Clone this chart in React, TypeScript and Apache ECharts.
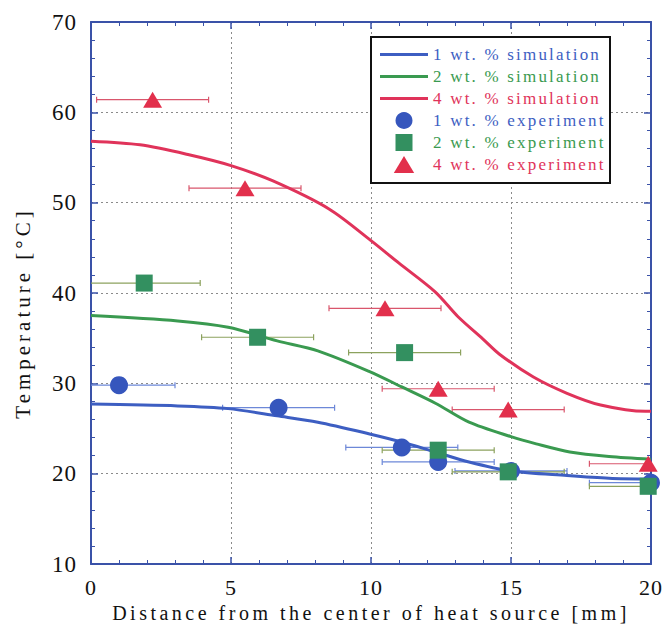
import React, { useEffect, useRef } from "react";
import * as echarts from "echarts";

// ---- simulation curves ----
const sim1X = [0, 3.1, 4.9, 6.65, 8.1, 9.95, 11.1, 12.3, 13.5, 15, 17, 18.5, 20];
const sim1Y = [27.7, 27.5, 27.2, 26.4, 25.7, 24.4, 23.5, 22.4, 21.3, 20.3, 19.8, 19.5, 19.4];
const sim2X = [0, 3.1, 4.9, 6.65, 8.1, 9.95, 11.1, 12.3, 13.5, 15, 15.9, 17.1, 18.5, 20];
const sim2Y = [37.5, 36.9, 36.2, 34.7, 33.6, 31.3, 29.6, 27.8, 25.7, 24.1, 23.3, 22.4, 21.9, 21.6];
const sim4X = [0, 1.75, 3.5, 5, 6.5, 8.5, 10, 11, 12.3, 13.1, 14, 14.6, 15.8, 17, 18.2, 19.8, 20];
const sim4Y = [56.8, 56.4, 55.3, 54.1, 52.4, 49.3, 45.8, 43.3, 40.1, 37.4, 34.9, 33.2, 30.7, 28.9, 27.6, 26.9, 26.9];

// ---- experiments ----
const exp1X = [1.0, 6.7, 11.1, 12.4, 15.0, 20.0];
const exp1Y = [29.8, 27.3, 22.9, 21.3, 20.3, 19.0];
const exp1Err = [2, 2, 2, 2, 2, 2.2];
const exp2X = [1.9, 5.95, 11.2, 12.4, 14.9, 19.9];
const exp2Y = [41.1, 35.1, 33.4, 22.6, 20.2, 18.6];
const exp2Err = [2, 2, 2, 2, 2, 2.1];
const exp4X = [2.2, 5.5, 10.5, 12.4, 14.9, 19.9];
const exp4Y = [61.4, 51.6, 38.3, 29.4, 27.1, 21.1];
const exp4Err = [2, 2, 2, 2, 2, 2.1];

const xTicks = [0, 5, 10, 15, 20];
const yTicks = [10, 20, 30, 40, 50, 60, 70];

const legendNames = [
  "1 wt. % simulation",
  "2 wt. % simulation",
  "4 wt. % simulation",
  "1 wt. % experiment",
  "2 wt. % experiment",
  "4 wt. % experiment",
];

const BLUE = "#3d5ec2";
const GREEN = "#3a9a50";
const RED = "#e0335a";
const BLUE_M = "#3656bd";
const GREEN_M = "#339060";
const RED_M = "#e2304c";
const BLUE_E = "#6d88d8";
const GREEN_E = "#8ca25e";
const RED_E = "#d9566c";
const AX = "#3a52a8";
const FONT = "'Liberation Serif', 'Times New Roman', serif";

const LINE_ICON = "path://M0,0 L48,0 L48,3 L0,3 Z";
const SQUARE_ICON = "path://M0,0 L10,0 L10,10 L0,10 Z";
const TRI_ICON = "path://M6,0 L12,10 L0,10 Z";
const legendIcons = [LINE_ICON, LINE_ICON, LINE_ICON, "circle", SQUARE_ICON, TRI_ICON];
const legendColors = [BLUE, GREEN, RED, BLUE, GREEN, RED];
const iconColors = [BLUE, GREEN, RED, BLUE_M, GREEN_M, RED_M];

const pairs = (xs: number[], ys: number[]) => xs.map((x, i) => [x, ys[i]]);
const errData = (xs: number[], ys: number[], es: number[]) =>
  xs.map((x, i) => [x, ys[i], x - es[i], x + es[i]]);

const errSeries = (name: string, data: number[][], color: string) => ({
  name,
  type: "custom",
  clip: true,
  z: 2,
  data,
  renderItem: (params: any, api: any) => {
    const y = api.value(1);
    const p1 = api.coord([api.value(2), y]);
    const p2 = api.coord([api.value(3), y]);
    const c = 3;
    const st = { stroke: color, lineWidth: 1.2 };
    return {
      type: "group",
      children: [
        { type: "line", shape: { x1: p1[0], y1: p1[1], x2: p2[0], y2: p2[1] }, style: st },
        { type: "line", shape: { x1: p1[0], y1: p1[1] - c, x2: p1[0], y2: p1[1] + c }, style: st },
        { type: "line", shape: { x1: p2[0], y1: p2[1] - c, x2: p2[0], y2: p2[1] + c }, style: st },
      ],
    };
  },
});

export default function App() {
  const ref = useRef<HTMLDivElement>(null);
  useEffect(() => {
    if (!ref.current) return;
    const chart = echarts.init(ref.current, undefined, { renderer: "svg" });
    const axisCommon = {
      type: "value",
      axisLine: { show: true, onZero: false, lineStyle: { color: AX, width: 2 } },
      axisTick: { show: true, inside: true, length: 7, lineStyle: { color: AX, width: 1.5 } },
      minorTick: { show: true, splitNumber: 5, length: 4, lineStyle: { color: AX, width: 1 } },
    };
    const option: any = {
      animation: false,
      backgroundColor: "#ffffff",
      grid: { left: 91, right: 13, top: 22, bottom: 66 },
      xAxis: [
        {
          ...axisCommon,
          min: xTicks[0],
          max: xTicks[xTicks.length - 1],
          interval: 5,
          position: "bottom",
          axisLabel: { color: "#111", fontFamily: FONT, fontSize: 22, margin: 12 },
          splitLine: { show: true, lineStyle: { color: "#8a8a8a", type: [2, 3], width: 1 } },
          name: "Distance from the center of heat source [mm]",
          nameLocation: "middle",
          nameGap: 36,
          nameTextStyle: { color: "#111", fontFamily: FONT, fontSize: 20 },
        },
        {
          ...axisCommon,
          min: xTicks[0],
          max: xTicks[xTicks.length - 1],
          interval: 5,
          position: "top",
          axisLabel: { show: false },
          splitLine: { show: false },
        },
      ],
      yAxis: [
        {
          ...axisCommon,
          min: yTicks[0],
          max: yTicks[yTicks.length - 1],
          interval: 10,
          position: "left",
          axisLabel: { color: "#111", fontFamily: FONT, fontSize: 23, margin: 14 },
          splitLine: { show: true, lineStyle: { color: "#8a8a8a", type: [2, 3], width: 1 } },
        },
        {
          ...axisCommon,
          min: yTicks[0],
          max: yTicks[yTicks.length - 1],
          interval: 10,
          position: "right",
          axisLabel: { show: false },
          splitLine: { show: false },
        },
      ],
      legend: {
        data: legendNames.map((n, i) => ({
          name: n,
          icon: legendIcons[i],
          itemStyle: { color: iconColors[i] },
          textStyle: { color: legendColors[i] },
        })),
        orient: "vertical",
        left: 380,
        top: 46,
        padding: 0,
        itemWidth: 48,
        itemHeight: 17,
        itemGap: 5,
        z: 10,
        textStyle: { fontFamily: FONT, fontSize: 17 },
        selectedMode: false,
      },
      graphic: [
        {
          type: "rect",
          z: 9,
          shape: { x: 371, y: 37, width: 239, height: 146 },
          style: { fill: "#ffffff", stroke: "#111", lineWidth: 2 },
        },
        {
          type: "text",
          x: 23,
          y: 313,
          rotation: Math.PI / 2,
          style: {
            text: "Temperature [°C]",
            fontFamily: FONT,
            fontSize: 21,
            fill: "#111",
            textAlign: "center",
            textVerticalAlign: "middle",
          },
        },
      ],
      series: [
        errSeries("e1", errData(exp1X, exp1Y, exp1Err), BLUE_E),
        errSeries("e2", errData(exp2X, exp2Y, exp2Err), GREEN_E),
        errSeries("e4", errData(exp4X, exp4Y, exp4Err), RED_E),
        {
          name: legendNames[0], type: "line", data: pairs(sim1X, sim1Y), smooth: 0.3,
          symbol: "none", z: 3, lineStyle: { color: BLUE, width: 3 }, itemStyle: { color: BLUE },
        },
        {
          name: legendNames[1], type: "line", data: pairs(sim2X, sim2Y), smooth: 0.3,
          symbol: "none", z: 3, lineStyle: { color: GREEN, width: 3 }, itemStyle: { color: GREEN },
        },
        {
          name: legendNames[2], type: "line", data: pairs(sim4X, sim4Y), smooth: 0.3,
          symbol: "none", z: 3, lineStyle: { color: RED, width: 3 }, itemStyle: { color: RED },
        },
        {
          name: legendNames[3], type: "scatter", data: pairs(exp1X, exp1Y), symbol: "circle",
          symbolSize: 18, z: 4, itemStyle: { color: BLUE_M, opacity: 1 },
        },
        {
          name: legendNames[4], type: "scatter", data: pairs(exp2X, exp2Y), symbol: "rect",
          symbolSize: 17, z: 4, itemStyle: { color: GREEN_M, opacity: 1 },
        },
        {
          name: legendNames[5], type: "scatter", data: pairs(exp4X, exp4Y), symbol: "triangle",
          symbolSize: [19, 16], z: 4, itemStyle: { color: RED_M, opacity: 1 },
        },
      ],
    };
    chart.setOption(option);
    const applySpacing = () => {
      if (!ref.current) return;
      ref.current.querySelectorAll("text").forEach((t) => {
        const s = t.textContent || "";
        let ls = "1px";
        if (s.startsWith("Distance")) ls = "3.5px";
        else if (s.startsWith("Temperature")) ls = "4px";
        else if (s.includes("wt.")) ls = "2.2px";
        t.setAttribute("letter-spacing", ls);
      });
    };
    applySpacing();
    return () => chart.dispose();
  }, []);
  return <div ref={ref} style={{ width: 665, height: 630, position: "absolute", left: 0, top: 0 }} />;
}
